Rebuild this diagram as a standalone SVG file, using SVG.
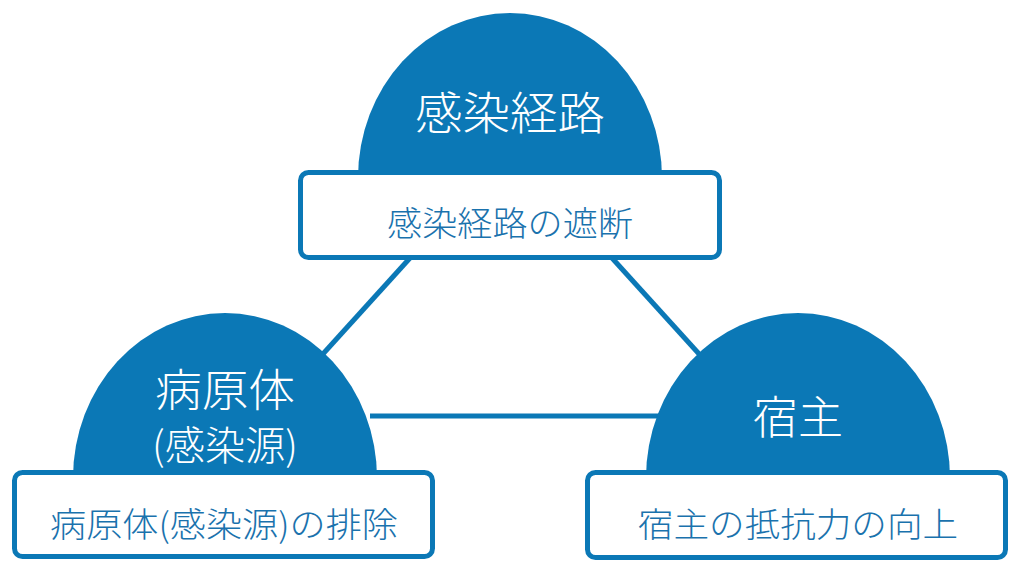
<svg xmlns="http://www.w3.org/2000/svg" width="1024" height="570" viewBox="0 0 1024 570">
<style>
.dome{fill:#0b78b6}
.box{fill:#fff;stroke:#0b78b6;stroke-width:5}
.conn{stroke:#0b78b6;stroke-width:5;fill:none}
.t{font-family:"Noto Sans CJK JP","Noto Sans",sans-serif;text-anchor:middle;font-weight:300}
.big{fill:#fff;font-size:45px}
.sub{fill:#fff;font-size:40px}
.small{fill:#1a72ad;font-size:34px}
</style>
<rect width="1024" height="570" fill="#fff"/>
<g id="connectors">
<line class="conn" x1="410" y1="258" x2="322" y2="355"/>
<line class="conn" x1="612" y1="258" x2="700" y2="355"/>
<line class="conn" x1="370" y1="416" x2="665" y2="416"/>
</g>
<g id="node-route">
<path class="dome" d="M358,178 A152,165 0 0 1 662,178 Z"/>
<rect class="box" x="300.5" y="172.5" width="419" height="85" rx="8"/>
<text class="t big" x="510" y="130" textLength="190" lengthAdjust="spacingAndGlyphs">感染経路</text>
<text class="t small" x="510" y="236" textLength="246" lengthAdjust="spacingAndGlyphs">感染経路の遮断</text>
</g>
<g id="node-pathogen">
<path class="dome" d="M73,478 A152,165 0 0 1 377,478 Z"/>
<rect class="box" x="14.5" y="472.5" width="418" height="84" rx="8"/>
<text class="t big" x="225" y="407" textLength="140" lengthAdjust="spacingAndGlyphs">病原体</text>
<text class="t sub" x="225" y="460" textLength="146" lengthAdjust="spacingAndGlyphs">(感染源)</text>
<text class="t small" x="224" y="537" textLength="348" lengthAdjust="spacingAndGlyphs">病原体(感染源)の排除</text>
</g>
<g id="node-host">
<path class="dome" d="M646,478 A152,165 0 0 1 950,478 Z"/>
<rect class="box" x="587.5" y="472.5" width="418" height="85" rx="8"/>
<text class="t big" x="798" y="434">宿主</text>
<text class="t small" x="798" y="537" textLength="320" lengthAdjust="spacingAndGlyphs">宿主の抵抗力の向上</text>
</g>
</svg>
